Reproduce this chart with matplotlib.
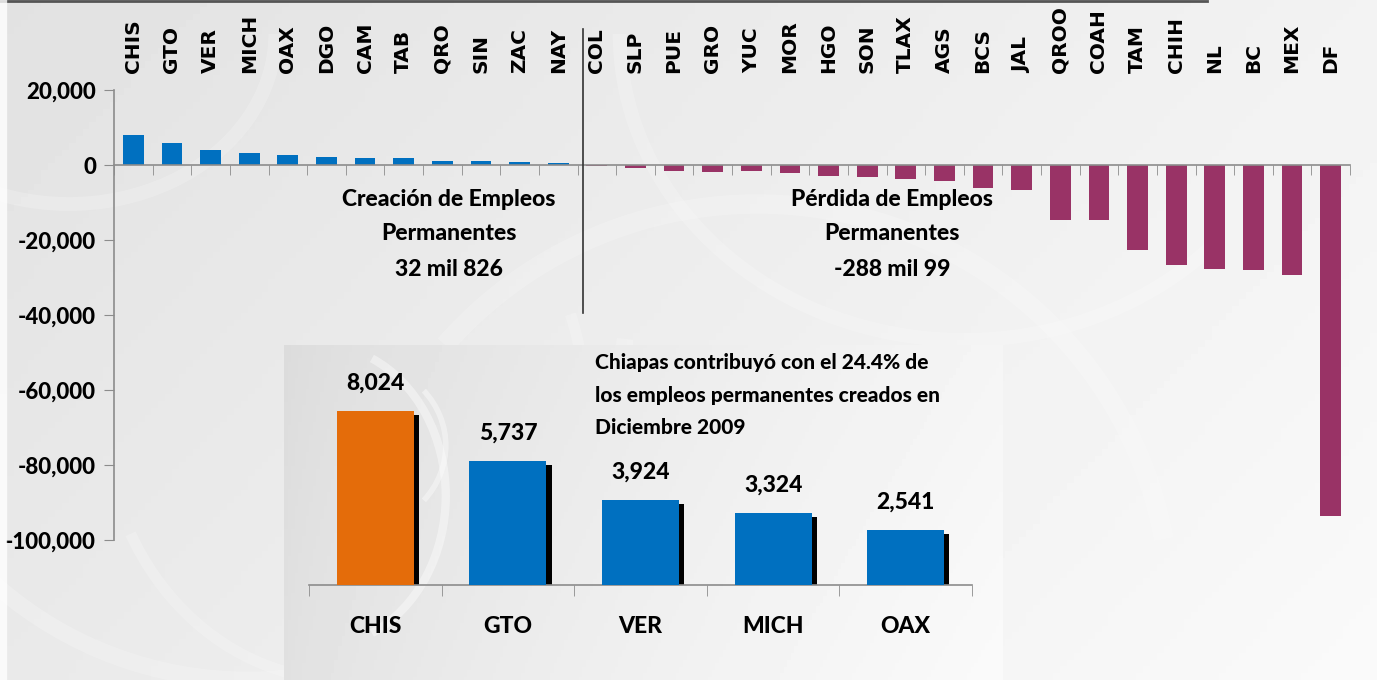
import numpy as np
import matplotlib.pyplot as plt
from matplotlib.lines import Line2D
from matplotlib.patches import Arc

# --- datos (empleos permanentes, diciembre 2009) ---
estados = ['CHIS', 'GTO', 'VER', 'MICH', 'OAX', 'DGO', 'CAM', 'TAB', 'QRO', 'SIN', 'ZAC', 'NAY',
           'COL', 'SLP', 'PUE', 'GRO', 'YUC', 'MOR', 'HGO', 'SON', 'TLAX', 'AGS', 'BCS', 'JAL',
           'QROO', 'COAH', 'TAM', 'CHIH', 'NL', 'BC', 'MEX', 'DF']
empleos = [8024, 5737, 3924, 3324, 2541, 2200, 1900, 1850, 1050, 1000, 750, 450,
           -300, -900, -1500, -1800, -1700, -2000, -2800, -3100, -3700, -4200, -6200, -6600,
           -14600, -14700, -22700, -26700, -27800, -28100, -29400, -93600]
yticks = [20000, 0, -20000, -40000, -60000, -80000, -100000]

top5 = ['CHIS', 'GTO', 'VER', 'MICH', 'OAX']
top5_vals = [8024, 5737, 3924, 3324, 2541]

AZUL = '#0070C0'
MORADO = '#993366'
NARANJA = '#E46C0A'
GRIS = '#8c8c8c'
PESO = 'black'   # el peso mas grueso disponible de Lato

plt.rcParams['font.family'] = ['Lato', 'DejaVu Sans']
plt.rcParams['font.weight'] = 'bold'

W, H = 1377, 680
fig = plt.figure(figsize=(W / 100, H / 100), dpi=100)

def fx(px):
    return px / W

def fy(py):
    return 1 - py / H

# fondo gris con degradado y algunos "remolinos" suaves
bg = fig.add_axes([0, 0, 1, 1], zorder=-10)
gx, gy = np.meshgrid(np.linspace(0, 1, 200), np.linspace(0, 1, 100))
grad = 0.885 + 0.065 * gx + 0.03 * gy
bg.imshow(grad, cmap='gray', vmin=0, vmax=1, extent=[0, 1, 0, 1], aspect='auto', origin='upper')
for cx, cy, w, h, t1, t2, lw in [(0.18, 0.55, 0.55, 1.1, 200, 350, 12),
                                 (0.25, 0.4, 0.35, 0.8, 230, 400, 8),
                                 (0.05, 0.95, 0.3, 0.5, 250, 360, 10),
                                 (0.55, 0.1, 0.6, 1.2, 20, 120, 14),
                                 (0.7, 0.95, 0.5, 0.9, 180, 300, 10)]:
    bg.add_patch(Arc((cx, cy), w, h, theta1=t1, theta2=t2, color='white', lw=lw, alpha=0.2))
bg.set_xlim(0, 1)
bg.set_ylim(0, 1)
bg.axis('off')
fig.add_artist(Line2D([0, fx(1207)], [fy(1), fy(1)], color='#555555', lw=2))
fig.add_artist(Line2D([fx(3), fx(3)], [0, 1], color='white', lw=6, alpha=0.8))

# --- grafica principal ---
ax = fig.add_axes([fx(114), fy(540), fx(1350) - fx(114), fy(90) - fy(540)])
ax.patch.set_alpha(0)
x = np.arange(len(estados))
colores = [AZUL if v >= 0 else MORADO for v in empleos]
ax.bar(x, empleos, width=0.54, color=colores, zorder=3)

ax.set_xlim(-0.5, len(estados) - 0.5)
ax.set_ylim(-100000, 20000)
ax.set_yticks(yticks)
ax.set_yticklabels([f'{v:,}' for v in yticks], fontweight=PESO)
ax.set_xticks(x)
ax.set_xticklabels(estados)
ax.set_xticks(np.arange(-0.5, len(estados), 1), minor=True)

ax.spines['bottom'].set_position(('data', 0))
for s in ['top', 'right']:
    ax.spines[s].set_visible(False)
for s in ['bottom', 'left']:
    ax.spines[s].set_color(GRIS)
    ax.spines[s].set_linewidth(1.2)
    ax.spines[s].set_zorder(4)

ax.tick_params(axis='x', which='major', bottom=False, top=False, labelbottom=False,
               labeltop=True, labelrotation=90, labelsize=14.5, pad=9)
ax.tick_params(axis='x', which='minor', bottom=True, direction='out', length=7, color=GRIS)
ax.tick_params(axis='y', direction='out', length=7, color=GRIS, labelsize=16, pad=6)
# etiquetas de estados arriba, en letra ancha y gruesa
for t in ax.xaxis.get_major_ticks():
    t.label2.set_fontfamily('DejaVu Sans')
    t.label2.set_fontweight('bold')

# linea divisoria
fig.add_artist(Line2D([fx(583), fx(583)], [fy(29), fy(313)], color='#333333', lw=1.2))

for cx, lineas in [(449, ['Creación de Empleos', 'Permanentes', '32 mil 826']),
                   (892, ['Pérdida de Empleos', 'Permanentes', '-288 mil 99'])]:
    for py, t in zip([199, 234, 270], lineas):
        fig.text(fx(cx), fy(py), t, ha='center', va='center', fontsize=16.5, fontweight=PESO)

# --- recuadro con los cinco primeros ---
panel = fig.add_axes([fx(284), 0, fx(1003) - fx(284), fy(345)], zorder=5)
px_, py_ = np.meshgrid(np.linspace(0, 1, 200), np.linspace(0, 1, 100))
pgrad = 0.86 + 0.1 * px_ ** 0.7 + 0.02 * py_
panel.imshow(pgrad, cmap='gray', vmin=0, vmax=1, extent=[0, 1, 0, 1], aspect='auto')
for cx, cy, w, h, t1, t2, lw in [(0.05, 0.55, 0.35, 0.9, 280, 80, 6),
                                 (0.1, 0.7, 0.25, 0.5, 300, 60, 4)]:
    panel.add_patch(Arc((cx, cy), w, h, theta1=t1, theta2=t2, color='white', lw=lw, alpha=0.4))
panel.set_xlim(0, 1)
panel.set_ylim(0, 1)
panel.axis('off')

ax2 = fig.add_axes([fx(309), fy(585), fx(972) - fx(309), fy(368) - fy(585)], zorder=6)
ax2.patch.set_alpha(0)
x2 = np.arange(len(top5))
colores2 = [NARANJA] + [AZUL] * (len(top5) - 1)
sombra = [v - 185 for v in top5_vals]
ax2.bar(x2 + 0.04, sombra, width=0.58, color='black', zorder=2)
ax2.bar(x2, top5_vals, width=0.58, color=colores2, zorder=3)
for xi, v in zip(x2, top5_vals):
    ax2.annotate(f'{v:,}', (xi, v), xytext=(0, 20), textcoords='offset points',
                 ha='center', va='center', fontsize=16.5, fontweight=PESO)

ax2.set_xlim(-0.5, len(top5) - 0.5)
ax2.set_ylim(0, 10000)
ax2.set_yticks([])
ax2.set_xticks(x2)
ax2.set_xticklabels(top5, fontweight=PESO)
ax2.set_xticks(np.arange(-0.5, len(top5), 1), minor=True)
for s in ['top', 'right', 'left']:
    ax2.spines[s].set_visible(False)
ax2.spines['bottom'].set_color(GRIS)
ax2.spines['bottom'].set_linewidth(1.2)
ax2.tick_params(axis='x', which='major', length=0, labelsize=16.5, pad=22)
ax2.tick_params(axis='x', which='minor', direction='out', length=8, color=GRIS)

for py, t in zip([363, 395, 427], ['Chiapas contribuyó con el 24.4% de',
                                   'los empleos permanentes creados en',
                                   'Diciembre 2009']):
    fig.text(fx(595), fy(py), t, ha='left', va='center', fontsize=15,
             fontweight=PESO, zorder=7)

plt.savefig('out.png', dpi=100)
